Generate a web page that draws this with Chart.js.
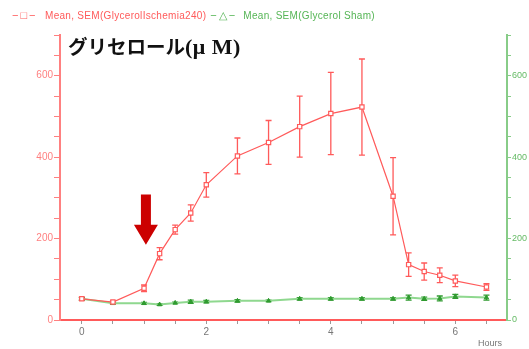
<!DOCTYPE html>
<html>
<head>
<meta charset="utf-8">
<script src="https://cdn.jsdelivr.net/npm/chart.js@4.4.0/dist/chart.umd.min.js"></script>
<style>
    html, body { margin: 0; padding: 0; background: #fff; }
    #wrap { position: relative; width: 529px; height: 349px; }
    #legend {
        position: absolute; left: 12px; top: 9px;
        font: 10px "Liberation Sans", Arial, sans-serif;
        white-space: nowrap; letter-spacing: 0.3px;
    }
    #legend span { display: inline-block; }
    #legend .mark { width: 33px; font-size: 11px; letter-spacing: 2px; }
    #legend .red { color: #ff5a5a; }
    #legend .green { color: #55b555; }
    #legend .gap { width: 4px; }
    #title {
        position: absolute; left: 68px; top: 36px;
        font: bold 19.5px "Noto Sans CJK JP", sans-serif; line-height: 1;
        color: #111; white-space: nowrap;
    }
    #title .unit { font-family: "Liberation Serif", serif; font-size: 22px; letter-spacing: 0.5px; }
</style>
</head>
<body>
<div id="wrap">
    <canvas id="chart" width="529" height="349"></canvas>
    <div id="legend"><span class="mark red">−□−</span><span class="red">Mean, SEM(GlycerolIschemia240)</span><span class="gap"></span><span class="mark green">−△−</span><span class="green">Mean, SEM(Glycerol Sham)</span></div>
    <div id="title">グリセロール<span class="unit">(μ M)</span></div>
</div>
<script>
// time points (hours)
const hours = [0, 0.5, 1, 1.25, 1.5, 1.75, 2, 2.5, 3, 3.5, 4, 4.5, 5, 5.25, 5.5, 5.75, 6, 6.5];

// glycerol, ischemia 240
const ischemiaMean = [52, 44, 78, 163, 222, 263, 332, 403, 436, 475, 507, 523, 304, 136, 119, 110, 96, 81];
const ischemiaSem = [4, 3, 8, 15, 11, 20, 30, 44, 54, 75, 101, 118, 95, 29, 21, 18, 14, 8];

// glycerol, sham
const shamMean = [52, 41, 41, 38, 42, 45, 45, 47, 47, 52, 52, 52, 52, 55, 52, 53, 58, 55];
const shamSem = [3, 2, 2, 2, 2, 4, 3, 3, 2, 3, 3, 3, 3, 6, 4, 6, 5, 6];

// axes
const xTicks = [0, 0.5, 1, 1.5, 2, 2.5, 3, 3.5, 4, 4.5, 5, 5.5, 6, 6.5];
const xLabels = [0, 2, 4, 6];
const yTicks = [0, 50, 100, 150, 200, 250, 300, 350, 400, 450, 500, 550, 600, 650, 700];
const yLabels = [0, 200, 400, 600];

// arrow marking the ischemia start
const arrowHour = 1.03;
const arrowFrom = 308;
const arrowTo = 185;

const RED = '#ff5a5a';
const GREEN = '#55b555';

const errorBars = {
    id: 'errorBars',
    beforeDatasetsDraw(chart) {
        const ctx = chart.ctx;
        chart.data.datasets.forEach((ds, i) => {
            if (!ds.errors) return;
            const meta = chart.getDatasetMeta(i);
            const yScale = chart.scales[meta.yAxisID];
            ctx.save();
            ctx.strokeStyle = ds.errorColor;
            ctx.lineWidth = 1.3;
            meta.data.forEach((pt, j) => {
                const v = ds.data[j].y;
                const e = ds.errors[j];
                const top = yScale.getPixelForValue(v + e);
                const bot = yScale.getPixelForValue(v - e);
                ctx.beginPath();
                ctx.moveTo(pt.x, top);
                ctx.lineTo(pt.x, bot);
                ctx.moveTo(pt.x - 3, top);
                ctx.lineTo(pt.x + 3, top);
                ctx.moveTo(pt.x - 3, bot);
                ctx.lineTo(pt.x + 3, bot);
                ctx.stroke();
            });
            ctx.restore();
        });
    }
};

const arrow = {
    id: 'arrow',
    afterDraw(chart) {
        const ctx = chart.ctx;
        const x = chart.scales.x.getPixelForValue(arrowHour);
        const y0 = chart.scales.y.getPixelForValue(arrowFrom);
        const y1 = chart.scales.y.getPixelForValue(arrowTo);
        const head = 20;
        ctx.save();
        ctx.fillStyle = '#cc0000';
        ctx.beginPath();
        ctx.moveTo(x - 5, y0);
        ctx.lineTo(x + 5, y0);
        ctx.lineTo(x + 5, y1 - head);
        ctx.lineTo(x + 12, y1 - head);
        ctx.lineTo(x, y1);
        ctx.lineTo(x - 12, y1 - head);
        ctx.lineTo(x - 5, y1 - head);
        ctx.closePath();
        ctx.fill();
        ctx.restore();
    }
};

const fontFamily = '"Liberation Sans", Arial, sans-serif';
const tickFont = { family: fontFamily, size: 10 };

function valueAxis(position, color, labelColor, width, fontSize, tickLength) {
    return {
        type: 'linear',
        position: position,
        min: 0,
        max: 700,
        afterBuildTicks: scale => { scale.ticks = yTicks.map(v => ({ value: v })); },
        afterFit: scale => { scale.width = width; },
        border: { color: color, width: 2 },
        grid: { drawOnChartArea: false, color: color, tickLength: tickLength },
        ticks: {
            color: labelColor,
            font: { family: fontFamily, size: fontSize },
            padding: 1,
            autoSkip: false,
            callback: v => yLabels.includes(v) ? v : ''
        }
    };
}

new Chart(document.getElementById('chart'), {
    type: 'scatter',
    data: {
        datasets: [{
            label: 'Mean, SEM(GlycerolIschemia240)',
            data: hours.map((h, i) => ({ x: h, y: ischemiaMean[i] })),
            errors: ischemiaSem,
            errorColor: RED,
            yAxisID: 'y',
            showLine: true,
            borderColor: RED,
            borderWidth: 1.2,
            pointStyle: 'rect',
            pointRadius: 3,
            pointBorderWidth: 1.2,
            pointBorderColor: RED,
            pointBackgroundColor: '#fff'
        }, {
            label: 'Mean, SEM(Glycerol Sham)',
            data: hours.map((h, i) => ({ x: h, y: shamMean[i] })),
            errors: shamSem,
            errorColor: '#2f9a2f',
            yAxisID: 'y2',
            showLine: true,
            borderColor: '#8fd88f',
            borderWidth: 2,
            pointStyle: 'triangle',
            pointRadius: 2.5,
            pointBorderWidth: 1,
            pointBorderColor: '#2f9a2f',
            pointBackgroundColor: '#2f9a2f'
        }]
    },
    options: {
        responsive: false,
        animation: false,
        layout: { padding: { top: 35, left: 0, right: 0, bottom: 0 } },
        plugins: {
            legend: { display: false },
            tooltip: { enabled: false }
        },
        scales: {
            x: {
                type: 'linear',
                min: -0.35,
                max: 6.83,
                afterBuildTicks: scale => { scale.ticks = xTicks.map(v => ({ value: v })); },
                afterFit: scale => { scale.height = 29; },
                border: { color: RED, width: 2 },
                grid: { drawOnChartArea: false, color: '#999', tickLength: 4 },
                ticks: {
                    color: '#777',
                    font: tickFont,
                    padding: 2,
                    autoSkip: false,
                    maxRotation: 0,
                    callback: v => xLabels.includes(v) ? v : ''
                },
                title: {
                    display: true,
                    text: 'Hours  ',
                    align: 'end',
                    color: '#777',
                    font: { family: fontFamily, size: 9 },
                    padding: { top: 0, bottom: 0 }
                }
            },
            y: valueAxis('left', '#ff8080', '#ff8080', 60, 10, 6),
            y2: valueAxis('right', '#88cc88', '#66bb66', 22, 9, 4)
        }
    },
    plugins: [errorBars, arrow]
});
</script>
</body>
</html>
